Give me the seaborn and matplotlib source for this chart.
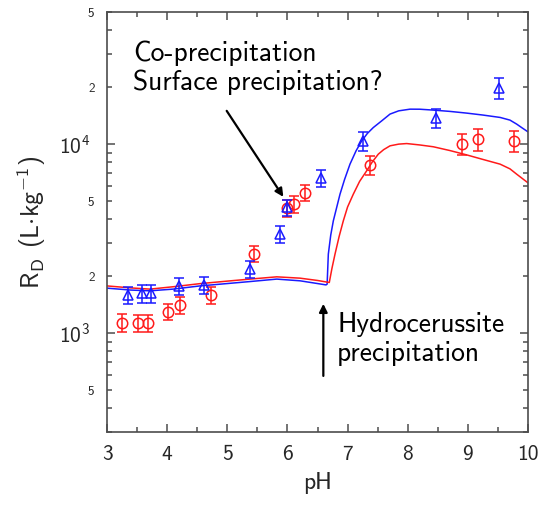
import numpy as np
import pandas as pd
import seaborn as sns
import matplotlib
matplotlib.use("Agg")
import matplotlib.pyplot as plt
from matplotlib.ticker import FixedLocator, FixedFormatter

# ---- data ----
red_ph = [3.25, 3.52, 3.69, 4.02, 4.21, 4.73, 5.45, 5.99, 6.11, 6.29, 7.37, 8.91, 9.17, 9.77]
red_rd = [1138, 1125, 1125, 1297, 1406, 1595, 2637, 4584, 4818, 5545, 7770, 10070, 10580, 10400]
red_err = [120, 115, 115, 130, 140, 160, 270, 460, 480, 560, 900, 1300, 1400, 1300]

blue_ph = [3.35, 3.59, 3.73, 4.20, 4.62, 5.38, 5.88, 5.99, 6.55, 7.25, 8.47, 9.52]
blue_rd = [1595, 1622, 1622, 1778, 1801, 2181, 3342, 4623, 6607, 10400, 13730, 19760]
blue_err = [170, 170, 170, 180, 180, 220, 330, 450, 660, 1200, 1600, 2500]

blue_model_ph = [3.0, 3.4, 3.715, 4.1, 4.546, 5.0, 5.378, 5.822, 6.21, 6.5, 6.641, 6.66, 6.68, 6.72, 6.763, 6.874,
                 6.95, 7.04, 7.14, 7.235, 7.33, 7.428, 7.568, 7.706, 7.85, 8.038, 8.2, 8.421, 8.7, 8.981, 9.25,
                 9.537, 9.7, 9.812, 9.9, 10.0]
blue_model_rd = [1730, 1690, 1675, 1710, 1778, 1830, 1875, 1932, 1892, 1830, 1800, 1816, 2618, 3300, 3926, 5433,
                 6500, 7834, 9200, 10400, 11400, 12240, 13280, 14420, 15000, 15310, 15300, 15140, 14900, 14590, 14250,
                 13840, 13400, 12760, 12200, 11610]

red_model_ph = [3.0, 3.4, 3.715, 4.1, 4.546, 5.0, 5.378, 5.822, 6.21, 6.5, 6.696, 6.74, 6.791, 6.86, 6.929, 7.0,
                7.095, 7.2, 7.318, 7.411, 7.511, 7.6, 7.706, 7.85, 7.983, 8.2, 8.426, 8.7, 8.981, 9.25, 9.537, 9.7,
                9.812, 9.9, 10.0]
red_model_rd = [1778, 1735, 1710, 1760, 1828, 1885, 1932, 1986, 1954, 1900, 1854, 2200, 2618, 3250, 3926, 4650,
                5433, 6350, 7228, 8050, 8851, 9350, 9795, 10000, 10070, 9900, 9683, 9250, 8770, 8300, 7834, 7400,
                6934, 6600, 6240]

x_ticks = [3, 4, 5, 6, 7, 8, 9, 10]
y_major = [1e3, 1e4]
y_major_labels = [r'$10^{3}$', r'$10^{4}$']
y_minor = [300, 400, 500, 600, 700, 800, 900, 2000, 3000, 4000, 5000, 6000, 7000, 8000, 9000,
           20000, 30000, 40000, 50000]
y_minor_labels = ['', '', '5', '', '', '', '', '2', '', '', '5', '', '', '', '',
                  '2', '', '', '5']

RED = '#ff1a1a'
BLUE = '#1a1aff'
EDGE = '#4d4d4d'

sns.set_style('ticks')
plt.rcParams['font.family'] = ['cmss10', 'DejaVu Sans']
plt.rcParams['mathtext.fontset'] = 'custom'
plt.rcParams['mathtext.rm'] = 'cmss10'
plt.rcParams['mathtext.it'] = 'cmss10'
plt.rcParams['mathtext.sf'] = 'cmss10'
plt.rcParams['axes.unicode_minus'] = False

fig = plt.figure(figsize=(5.43, 5.08), dpi=100)
ax = fig.add_axes([107/543, 1-432/508, (528-107)/543, (432-12)/508])
ax.set_yscale('log')

bm = pd.DataFrame({'pH': blue_model_ph, 'RD': blue_model_rd})
rm = pd.DataFrame({'pH': red_model_ph, 'RD': red_model_rd})
sns.lineplot(data=bm, x='pH', y='RD', sort=False, estimator=None, color=BLUE, lw=1.1, ax=ax)
sns.lineplot(data=rm, x='pH', y='RD', sort=False, estimator=None, color=RED, lw=1.1, ax=ax)

ax.errorbar(red_ph, red_rd, yerr=red_err, fmt='o', mfc='none', mec=RED, ecolor=RED, mew=1.1,
            ms=7.5, capsize=3.5, elinewidth=1.1, capthick=1.1, zorder=3)
ax.errorbar(blue_ph, blue_rd, yerr=blue_err, fmt='^', mfc='none', mec=BLUE, ecolor=BLUE, mew=1.1,
            ms=7.5, capsize=3.5, elinewidth=1.1, capthick=1.1, zorder=4)

ax.set_xlim(3, 10)
ax.set_ylim(300, 50000)
ax.set_xticks(x_ticks)
ax.set_xticklabels([str(v) for v in x_ticks])
ax.xaxis.set_minor_locator(FixedLocator([3.5, 4.5, 5.5, 6.5, 7.5, 8.5, 9.5]))
ax.yaxis.set_major_locator(FixedLocator(y_major))
ax.yaxis.set_major_formatter(FixedFormatter(y_major_labels))
ax.yaxis.set_minor_locator(FixedLocator(y_minor))
ax.yaxis.set_minor_formatter(FixedFormatter(y_minor_labels))

for s in ax.spines.values():
    s.set_color(EDGE)
    s.set_linewidth(1.2)
    s.set_visible(True)
ax.tick_params(which='both', direction='in', top=True, right=True, color=EDGE, width=1.1)
ax.tick_params(which='major', length=6)
ax.tick_params(which='minor', length=3.5)
ax.tick_params(axis='x', which='major', labelsize=15.5, pad=9)
ax.tick_params(axis='y', which='major', labelsize=15.5, pad=12)
ax.tick_params(axis='y', which='minor', labelsize=9.5, pad=9)

ax.set_xlabel('pH', fontsize=17, labelpad=6)
ax.set_ylabel(r'R$_{\mathrm{D}}$ (L$\cdot$kg$^{-1}$)', fontsize=18.5, labelpad=8)

ax.text(133/543, 1-90/508, 'Co-precipitation\nSurface precipitation?', transform=fig.transFigure,
        fontsize=19.8, va='baseline', ha='left', linespacing=1.18, color='black')
ax.text(337/543, 1-361/508, 'Hydrocerussite\nprecipitation', transform=fig.transFigure,
        fontsize=19.8, va='baseline', ha='left', linespacing=1.18, color='black')

ax.annotate('', xy=(5.932, 5260), xytext=(4.99, 15000),
            arrowprops=dict(arrowstyle='-|>', color='black', lw=1.6, mutation_scale=12, shrinkA=0, shrinkB=0))
ax.annotate('', xy=(6.597, 1430), xytext=(6.597, 594),
            arrowprops=dict(arrowstyle='-|>', color='black', lw=1.6, mutation_scale=12, shrinkA=0, shrinkB=0))

fig.savefig('out.png', dpi=100)
